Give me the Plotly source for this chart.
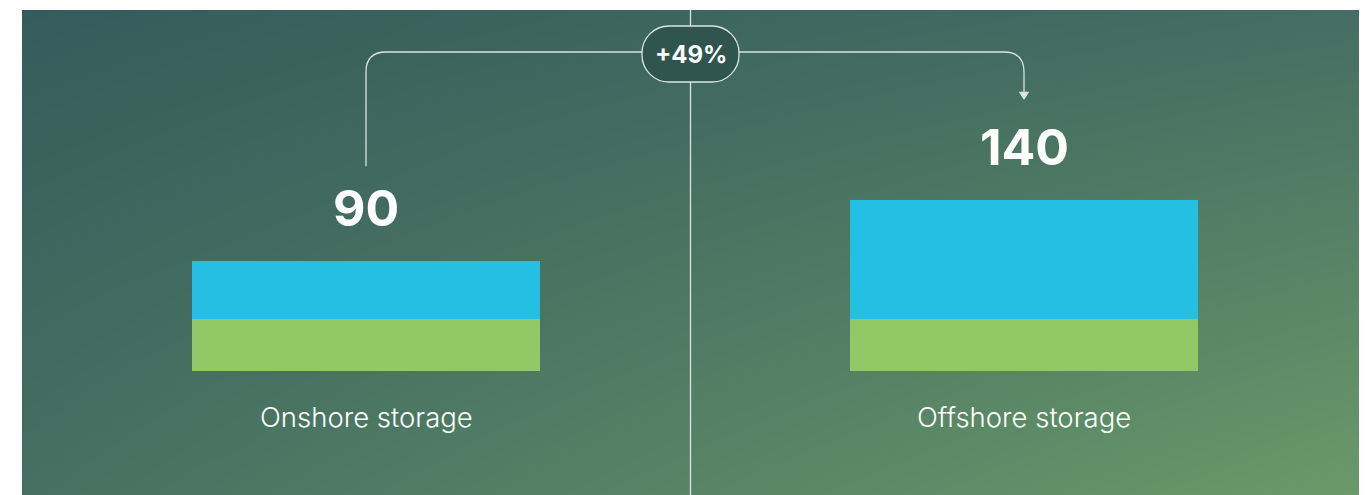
import base64
import struct
import zlib

import numpy as np
import plotly.graph_objects as go

# ---------------- data ----------------
categories = ["Onshore storage", "Offshore storage"]
totals = [90, 140]
green_vals = [43, 43]
blue_vals = [47, 97]
change_label = "+49%"

GREEN = "#92C967"
BLUE = "#25BFE3"
LINE = "#DCE3E0"
PILL_FILL = "#30554F"

# ---------------- geometry (figure px; page body adds 8px) ----------------
FIG_W, FIG_H = 1370, 495
OFF = 8
PL, PR, PT, PB = 22 - OFF, 1359 - OFF, 10 - OFF, 495 - OFF   # panel edges
X0_PX, X_UNIT = 366 - OFF, 658              # px of category 0, px per category step
Y_BASE_PX, Y_UNIT = 371 - OFF, 1.22         # px of value 0, px per value unit


def px2x(px):
    return (px - X0_PX) / X_UNIT


def py2y(py):
    return (Y_BASE_PX - py) / Y_UNIT


def x2px(x):
    return X0_PX + x * X_UNIT


def y2py(y):
    return Y_BASE_PX - y * Y_UNIT


def P(px, py):
    return f"{px2x(px):.6f},{py2y(py):.6f}"


# ---------------- gradient background ----------------
def gradient_png(w, h):
    tl = np.array([53, 92, 91], float)
    tr = np.array([68, 110, 99], float)
    bl = np.array([70, 112, 98], float)
    br = np.array([106, 154, 105], float)
    u = np.linspace(0, 1, w)[None, :, None]
    v = np.linspace(0, 1, h)[:, None, None]
    img = (tl * (1 - u) * (1 - v) + tr * u * (1 - v) + bl * (1 - u) * v + br * u * v)
    img = np.clip(np.round(img), 0, 255).astype(np.uint8)
    raw = b"".join(b"\x00" + img[i].tobytes() for i in range(h))

    def chunk(tag, data):
        c = struct.pack(">I", len(data)) + tag + data
        return c + struct.pack(">I", zlib.crc32(tag + data) & 0xFFFFFFFF)

    png = b"\x89PNG\r\n\x1a\n"
    png += chunk(b"IHDR", struct.pack(">IIBBBBB", w, h, 8, 2, 0, 0, 0))
    png += chunk(b"IDAT", zlib.compress(raw, 9))
    png += chunk(b"IEND", b"")
    return "data:image/png;base64," + base64.b64encode(png).decode()


bg_src = gradient_png(446, 162)

# ---------------- figure ----------------
xs = list(range(len(categories)))
bar_w = 348 / X_UNIT

fig = go.Figure()
fig.add_bar(x=xs, y=green_vals, width=bar_w, marker=dict(color=GREEN, line=dict(width=0)),
            hoverinfo="skip")
fig.add_bar(x=xs, y=blue_vals, width=bar_w, marker=dict(color=BLUE, line=dict(width=0)),
            hoverinfo="skip")

annotations = []
for i, (cat, tot) in enumerate(zip(categories, totals)):
    annotations.append(dict(x=i, y=tot, xref="x", yref="y", text=f"<b>{tot}</b>",
                            showarrow=False, yanchor="middle", yshift=53,
                            font=dict(family="Inter", size=50, color="white")))
    annotations.append(dict(x=i, y=0, xref="x", yref="y", text=cat,
                            showarrow=False, yanchor="middle", yshift=-46,
                            font=dict(family="Inter", size=27.5, color="white", weight=300)))

mid_px = (PL + PR) / 2
pill_cy = 54 - OFF
annotations.append(dict(x=px2x(mid_px), y=py2y(pill_cy), xref="x", yref="y",
                        text=f"<b>{change_label}</b>", showarrow=False,
                        font=dict(family="Inter", size=24, color="white")))

# connector geometry (px), derived from bar positions
h_py = 52 - OFF
r = 20
left_x = x2px(0)
right_x = x2px(1)
start_py = y2py(totals[0]) - 95
tip_py = y2py(totals[1]) - 101
pill_l, pill_r, pill_t, pill_b = mid_px - 48.5, mid_px + 48.5, 26 - OFF, 82 - OFF
pr_ = 27
k = 0.5523 * pr_

shapes = [
    # divider
    dict(type="line", xref="x", yref="y", x0=px2x(mid_px), x1=px2x(mid_px),
         y0=py2y(PT), y1=py2y(PB), line=dict(color=LINE, width=1.3)),
    # left connector
    dict(type="path", xref="x", yref="y", line=dict(color=LINE, width=1.3),
         path=(f"M{P(left_x, start_py)} L{P(left_x, h_py + r)} "
               f"Q{P(left_x, h_py)} {P(left_x + r, h_py)} L{P(pill_l, h_py)}")),
    # right connector
    dict(type="path", xref="x", yref="y", line=dict(color=LINE, width=1.3),
         path=(f"M{P(pill_r, h_py)} L{P(right_x - r, h_py)} "
               f"Q{P(right_x, h_py)} {P(right_x, h_py + r)} L{P(right_x, tip_py - 6)}")),
    # arrow head
    dict(type="path", xref="x", yref="y", line=dict(color=LINE, width=1),
         fillcolor=LINE,
         path=f"M{P(right_x - 4.5, tip_py - 7)} L{P(right_x + 4.5, tip_py - 7)} L{P(right_x, tip_py)} Z"),
    # pill
    dict(type="path", xref="x", yref="y", line=dict(color=LINE, width=1.3),
         fillcolor=PILL_FILL,
         path=(f"M{P(pill_l + pr_, pill_t)} L{P(pill_r - pr_, pill_t)} "
               f"C{P(pill_r - pr_ + k, pill_t)} {P(pill_r, pill_t + pr_ - k)} {P(pill_r, pill_t + pr_)} "
               f"L{P(pill_r, pill_b - pr_)} "
               f"C{P(pill_r, pill_b - pr_ + k)} {P(pill_r - pr_ + k, pill_b)} {P(pill_r - pr_, pill_b)} "
               f"L{P(pill_l + pr_, pill_b)} "
               f"C{P(pill_l + pr_ - k, pill_b)} {P(pill_l, pill_b - pr_ + k)} {P(pill_l, pill_b - pr_)} "
               f"L{P(pill_l, pill_t + pr_)} "
               f"C{P(pill_l, pill_t + pr_ - k)} {P(pill_l + pr_ - k, pill_t)} {P(pill_l + pr_, pill_t)} Z")),
]

fig.update_layout(
    width=FIG_W, height=FIG_H,
    margin=dict(l=PL, r=FIG_W - PR, t=PT, b=FIG_H - PB, pad=0, autoexpand=False),
    paper_bgcolor="white", plot_bgcolor="rgba(0,0,0,0)",
    barmode="stack", bargap=0, showlegend=False,
    xaxis=dict(visible=False, range=[px2x(PL), px2x(PR)], fixedrange=True),
    yaxis=dict(visible=False, range=[py2y(PB), py2y(PT)], fixedrange=True),
    images=[dict(source=bg_src, xref="paper", yref="paper", x=0, y=1, sizex=1, sizey=1,
                 xanchor="left", yanchor="top", sizing="stretch", layer="below")],
    annotations=annotations,
    shapes=shapes,
)

fig.write_html("out.html", config={"displayModeBar": False})
